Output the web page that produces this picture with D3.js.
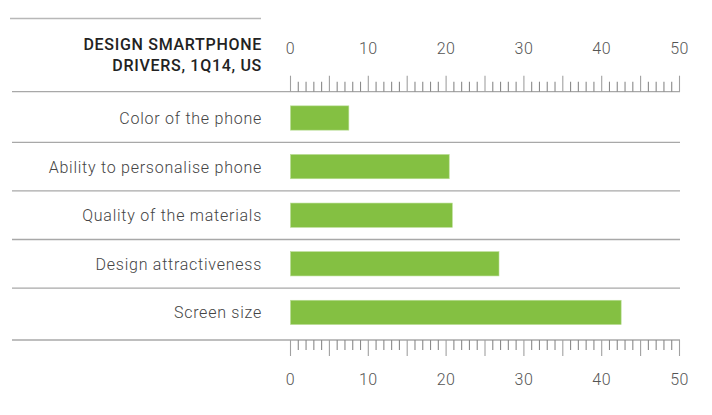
<!DOCTYPE html>
<html>
<head>
<meta charset="utf-8">
<script src="https://cdn.jsdelivr.net/npm/d3@7"></script>
<style>
  body { margin: 0; background: #fff; }
  svg { display: block; font-family: Roboto, "DejaVu Sans", sans-serif; }
</style>
</head>
<body>
<div id="chart"></div>
<script>
// data
var categories = ["Color of the phone", "Ability to personalise phone", "Quality of the materials",
                  "Design attractiveness", "Screen size"];
var values = [7.5, 20.4, 20.8, 26.8, 42.5];
var titleLines = ["DESIGN SMARTPHONE", "DRIVERS, 1Q14, US"];
var tickLabels = [0, 10, 20, 30, 40, 50];

var width = 712, height = 415;

var svg = d3.select("#chart").append("svg")
    .attr("width", width)
    .attr("height", height);

//set ranges
var x = d3.scaleLinear().domain([0, 50]).range([290.5, 679.5]);
var y = d3.scaleBand().domain(categories).range([93.7, 336.7]).paddingInner(0.5).paddingOuter(0.25);

var topY = 91.7, bottomY = 340;

// top rule above the title
svg.append("line")
    .attr("x1", 10).attr("x2", 261)
    .attr("y1", 18.5).attr("y2", 18.5)
    .attr("stroke", "#b8b8b8").attr("stroke-width", 1.3);

// title
svg.append("text")
    .attr("text-anchor", "end")
    .attr("fill", "#222")
    .style("font-size", "16px")
    .style("font-weight", 500)
    .style("letter-spacing", "0.7px")
    .selectAll("tspan")
    .data(titleLines)
    .join("tspan")
    .attr("x", 262)
    .attr("y", function(d, i) { return 50 + i * 21; })
    .text(function(d) { return d; });

// row separators
var seps = categories.slice(1).map(function(c) { return y(c) - y.step() * y.paddingInner() / 2; });
svg.selectAll("line.sep")
    .data(seps)
    .join("line")
    .attr("class", "sep")
    .attr("x1", 12).attr("x2", 680)
    .attr("y1", function(d) { return d; })
    .attr("y2", function(d) { return d; })
    .attr("stroke", "#a8a8a8").attr("stroke-width", 1.3);

// axis base lines
[topY, bottomY].forEach(function(yy) {
  svg.append("line")
      .attr("x1", 12).attr("x2", 680)
      .attr("y1", yy).attr("y2", yy)
      .attr("stroke", "#a8a8a8").attr("stroke-width", 1.3);
});

// ticks every unit, major every 5
var ticks = d3.range(0, 51, 1);
function drawTicks(yy, dir) {
  svg.append("g").selectAll("line")
      .data(ticks)
      .join("line")
      .attr("x1", function(d) { return x(d); })
      .attr("x2", function(d) { return x(d); })
      .attr("y1", yy)
      .attr("y2", function(d) { return yy + dir * (d % 5 === 0 ? 16 : 10); })
      .attr("stroke", function(d) { return d % 5 === 0 ? "#a0a0a0" : "#8a8a8a"; })
      .attr("stroke-width", 1.1);
}
drawTicks(topY, -1);
drawTicks(bottomY, 1);

// tick labels
[54, 385].forEach(function(yy) {
  svg.append("g").selectAll("text")
      .data(tickLabels)
      .join("text")
      .attr("x", function(d) { return x(d); })
      .attr("y", yy)
      .attr("text-anchor", "middle")
      .attr("fill", "#555")
      .style("font-size", "16px")
      .style("font-weight", 300)
      .style("letter-spacing", "0.5px")
      .text(function(d) { return d; });
});

// bars
svg.selectAll("rect.bar")
    .data(values)
    .join("rect")
    .attr("class", "bar")
    .attr("x", x(0))
    .attr("y", function(d, i) { return y(categories[i]); })
    .attr("width", function(d) { return x(d) - x(0); })
    .attr("height", y.bandwidth())
    .attr("fill", "#84c042")
    .attr("stroke", "#b9dd95")
    .attr("stroke-width", 0.6);

// category labels
svg.selectAll("text.cat")
    .data(categories)
    .join("text")
    .attr("class", "cat")
    .attr("x", 262)
    .attr("y", function(d) { return y(d) + y.bandwidth() / 2; })
    .attr("dy", "0.38em")
    .attr("text-anchor", "end")
    .attr("fill", "#444")
    .style("font-size", "16px")
    .style("font-weight", 300)
    .style("letter-spacing", "0.75px")
    .text(function(d) { return d; });
</script>
</body>
</html>
